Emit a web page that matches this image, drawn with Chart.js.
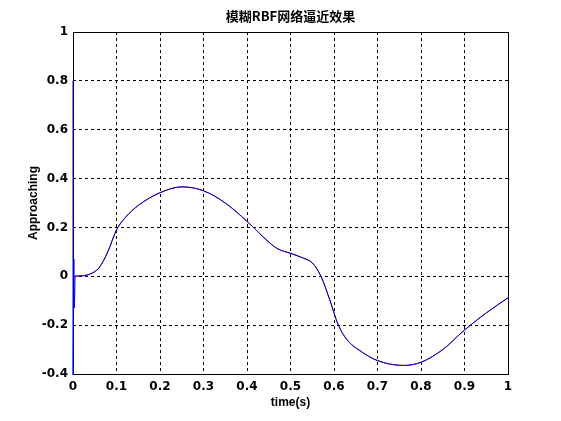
<!DOCTYPE html>
<html>
<head>
<meta charset="utf-8">
<script src="https://cdn.jsdelivr.net/npm/chart.js@4"></script>
<style>
  body { margin: 0; background: #fff; }
  canvas { display: block; }
</style>
</head>
<body>
<canvas id="myChart" width="561" height="421"></canvas>
<script>
var chartTitle = "模糊RBF网络逼近效果";
var xTitle = "time(s)";
var yTitle = "Approaching";

// ideal signal
var timeIdeal = [0, 0.02, 0.04, 0.06, 0.08, 0.1, 0.12, 0.15, 0.2, 0.25, 0.3, 0.35, 0.4, 0.45, 0.47, 0.5, 0.53, 0.55, 0.57, 0.59, 0.61, 0.63, 0.66, 0.7, 0.76, 0.8, 0.85, 0.9, 0.95, 1];
var ideal = [0, 0.002, 0.01, 0.035, 0.1, 0.19, 0.24, 0.29, 0.342, 0.366, 0.35, 0.3, 0.225, 0.14, 0.113, 0.094, 0.074, 0.055, 0.0, -0.095, -0.2, -0.26, -0.305, -0.345, -0.365, -0.352, -0.3, -0.22, -0.15, -0.088];

// network output: start-up spike, then follows the ideal signal
var timeApprox = [0, 0, 0.002, 0.003, 0.005, 0.02, 0.04, 0.06, 0.08, 0.1, 0.12, 0.15, 0.2, 0.25, 0.3, 0.35, 0.4, 0.45, 0.47, 0.5, 0.53, 0.55, 0.57, 0.59, 0.61, 0.63, 0.66, 0.7, 0.76, 0.8, 0.85, 0.9, 0.95, 1];
var approx = [0.8, -0.45, 0.07, -0.13, 0, 0.002, 0.01, 0.035, 0.1, 0.19, 0.24, 0.29, 0.342, 0.366, 0.35, 0.3, 0.225, 0.14, 0.113, 0.094, 0.074, 0.055, 0.0, -0.095, -0.2, -0.26, -0.305, -0.345, -0.365, -0.352, -0.3, -0.22, -0.15, -0.088];

function toPoints(xs, ys) {
	return xs.map(function (x, i) { return { x: x, y: ys[i] }; });
}

var tickFont = { family: "'DejaVu Sans', sans-serif", size: 12, weight: 'bold' };
var labelFont = { family: "'Liberation Sans', Arial, sans-serif", size: 12, weight: 'bold' };

// box + title drawn by hand, matlab style (box under the curves)
var frame = {
	id: 'frame',
	beforeDatasetsDraw: function (chart) {
		var a = chart.chartArea, ctx = chart.ctx;
		ctx.save();
		ctx.strokeStyle = '#000';
		ctx.lineWidth = 1;
		ctx.strokeRect(a.left + 0.5, a.top + 0.5, a.right - a.left, a.bottom - a.top);
		ctx.restore();
	},
	afterDraw: function (chart) {
		var a = chart.chartArea, ctx = chart.ctx;
		ctx.save();
		ctx.fillStyle = '#000';
		ctx.font = "bold 13px 'Noto Sans CJK SC', sans-serif";
		ctx.textAlign = 'center';
		ctx.textBaseline = 'middle';
		ctx.fillText(chartTitle, (a.left + a.right) / 2, 16);
		ctx.restore();
	}
};

var ctx = document.getElementById('myChart').getContext('2d');
var chart = new Chart(ctx, {
	type: 'line',
	data: {
		datasets: [{
			label: 'approx',
			data: toPoints(timeApprox, approx),
			borderColor: 'rgb(0,0,230)',
			borderWidth: 1,
			pointRadius: 0,
			cubicInterpolationMode: 'monotone',
			fill: false
		}, {
			label: 'ideal',
			data: toPoints(timeIdeal, ideal),
			borderColor: 'rgb(200,0,0)',
			borderWidth: 1,
			pointRadius: 0,
			cubicInterpolationMode: 'monotone',
			fill: false
		}]
	},
	options: {
		responsive: false,
		animation: false,
		clip: 1,
		layout: { padding: { top: 32, right: 53, left: 0, bottom: 0 } },
		plugins: { legend: { display: false }, title: { display: false }, tooltip: { enabled: false } },
		scales: {
			x: {
				type: 'linear', min: 0, max: 1,
				afterFit: function (s) { s.height = 47; },
				grid: { color: '#000', drawTicks: false },
				border: { dash: [3, 3], display: false },
				ticks: { stepSize: 0.1, padding: 6, color: '#000', font: tickFont, maxRotation: 0,
					callback: function (v) { return Math.round(v * 10) / 10; } },
				title: { display: true, text: xTitle, color: '#000', font: labelFont, padding: { top: 0, bottom: 11 } }
			},
			y: {
				min: -0.4, max: 1,
				afterFit: function (s) { s.width = 73; },
				grid: { color: '#000', drawTicks: false },
				border: { dash: [3, 3], display: false },
				ticks: { stepSize: 0.2, padding: 5, color: '#000', font: tickFont,
					callback: function (v) { return Math.round(v * 10) / 10; } },
				title: { display: true, text: yTitle, color: '#000', font: labelFont, padding: { top: 26, bottom: 0 } }
			}
		}
	},
	plugins: [frame]
});
</script>
</body>
</html>
